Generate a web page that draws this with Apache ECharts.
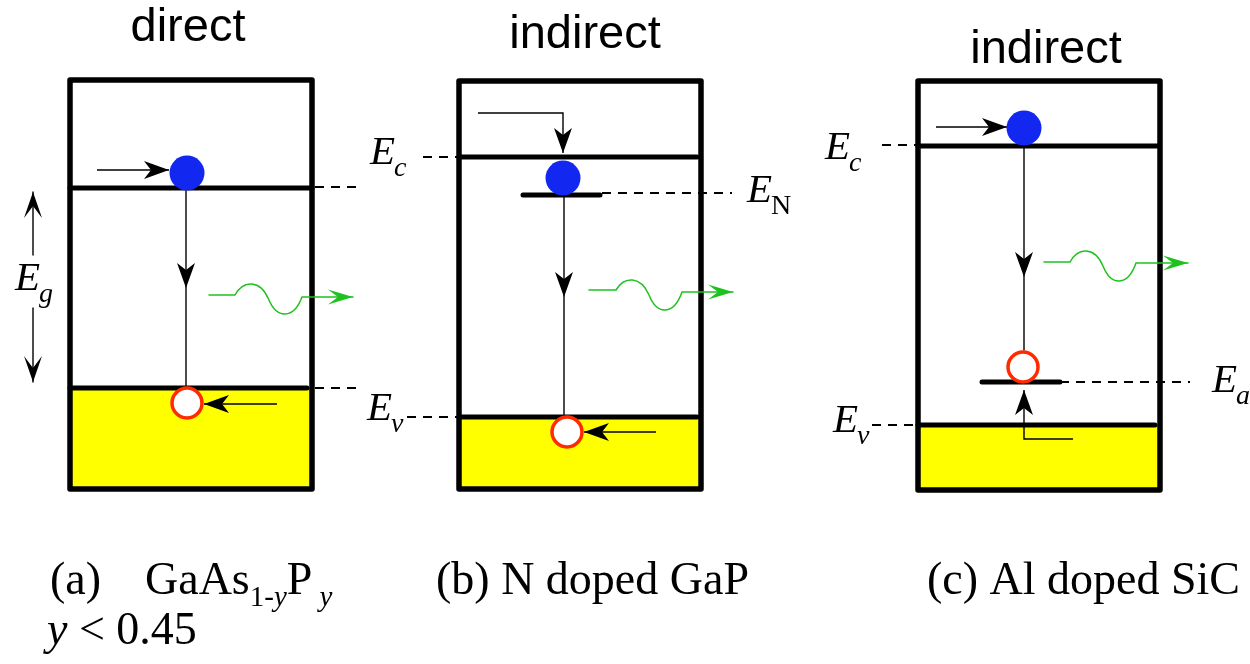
<!DOCTYPE html>
<html>
<head>
<meta charset="utf-8">
<script src="https://cdn.jsdelivr.net/npm/echarts@6/dist/echarts.min.js"></script>
<style>
html, body { margin: 0; padding: 0; background: #ffffff; }
#chart { width: 1250px; height: 664px; }
</style>
</head>
<body>
<div id="chart"></div>
<script>
// Band diagrams of three light emitters: direct GaAsP, N-doped GaP, Al-doped SiC.
// Diagram units: x runs to the right, y runs downward (higher energy = smaller y).

const panelTitles = ['direct', 'indirect', 'indirect'];
const titleCenterX = [188, 585, 1046];
const titleBaseY = [44, 51, 66];

const boxLeft = [70, 459, 918];
const boxRight = [312, 701, 1160];
const boxTop = [80, 81, 81];
const boxBottom = [489, 489, 490];

const conductionEdge = [188, 157, 146];
const conductionEnd = [312, 697, 1157];
const valenceEdge = [388, 417, 425];
const valenceEnd = [307, 697, 1155];
const impurityLevel = [null, 195, 382];
const impurityFrom = [null, 523, 982];
const impurityTo = [null, 600, 1060];

const electronX = [187, 563, 1024];
const electronY = [173, 178, 128];
const holeX = [187, 567, 1023];
const holeY = [403, 432, 367];

// path of an electron arriving at its state (last point = arrow tip)
const electronPath = [
  [[97, 170], [169, 170]],
  [[478, 113], [563, 113], [563, 153]],
  [[936, 127], [1007, 127]]
];
// path of a hole arriving at its state
const holePath = [
  [[277, 404], [204, 404]],
  [[656, 432], [584, 432]],
  [[1073, 439], [1024, 439], [1024, 390]]
];

// radiative transition
const recombX = [186, 564, 1024];
const recombTop = [191, 197, 146];
const recombBottom = [388, 415, 350];
const recombTipY = [288, 297, 277];

// emitted photon
const photonStartX = [209, 589, 1044];
const photonStartY = [295, 290, 262];
const waveFromX = [235, 616, 1070];
const waveToX = [302, 682, 1136];
const waveCrestY = [284, 280, 251];
const waveTroughY = [314, 310, 281];
const photonEndY = [297, 292, 263];
const photonTipX = [353, 733, 1188];

// dashed guides from the levels to their labels
const guideFromX = [315, 315, 423, 407, 602, 882, 872, 1060];
const guideToX = [363, 363, 457, 457, 732, 918, 918, 1190];
const guideY = [187, 388, 157, 417, 193, 145, 425, 382];

// level labels E with subscript
const levelSub = ['c', 'v', 'N', 'c', 'v', 'a', 'g'];
const levelSubItalic = [true, true, false, true, true, true, true];
const levelLabelX = [370, 367, 747, 825, 833, 1212, 15];
const levelLabelY = [167, 423, 205, 162, 435, 395, 293];

// band-gap double arrow
const gapArrowX = [33, 33];
const gapArrowFrom = [255, 308];
const gapArrowTo = [192, 382];

// captions, as runs of [text, style]: r roman, i italic, rs/is subscript
const captionRuns = [
  [['(a)', 'r']],
  [['GaAs', 'r'], ['1-', 'rs'], ['y', 'is'], ['P', 'r'], [' ', 'rs'], ['y', 'is']],
  [['(b) N doped GaP', 'r']],
  [['(c) Al doped SiC', 'r']],
  [['y', 'i'], [' < 0.45', 'r']]
];
const captionX = [50, 145, 436, 927, 47];
const captionY = [598, 598, 598, 598, 648];

const SERIF = '"Liberation Serif", "Times New Roman", serif';
const SANS = '"Liberation Sans", Arial, sans-serif';
const BLACK = '#000000';
const YELLOW = '#ffff00';
const BLUE = '#1228f0';
const RED = '#ff2a00';
const GREEN = '#1ec21e';

const measureCtx = document.createElement('canvas').getContext('2d');
function textWidth(text, font) {
  measureCtx.font = font;
  return measureCtx.measureText(text).width;
}

// place text by its alphabetic baseline
function textAt(x, baseline, text, font, size, align, fill) {
  return {
    type: 'text',
    style: {
      text: text, x: x, y: baseline - size * 0.34, font: font,
      fill: fill || BLACK, align: align || 'left', verticalAlign: 'middle'
    }
  };
}

function seg(p, q, width, color, dash) {
  return {
    type: 'line',
    shape: { x1: p[0], y1: p[1], x2: q[0], y2: q[1] },
    style: { stroke: color || BLACK, lineWidth: width, lineCap: dash ? 'butt' : 'round', lineDash: dash || null }
  };
}

// stealth-style arrow head with its tip at `tip`, pointing away from `from`
function arrowHead(tip, from, len, half, notch, color) {
  const dx = tip[0] - from[0], dy = tip[1] - from[1];
  const d = Math.hypot(dx, dy) || 1;
  const ux = dx / d, uy = dy / d, px = -uy, py = ux;
  const bx = tip[0] - ux * len, by = tip[1] - uy * len;
  const nx = tip[0] - ux * (len - notch), ny = tip[1] - uy * (len - notch);
  return {
    type: 'polygon',
    shape: { points: [tip, [bx + px * half, by + py * half], [nx, ny], [bx - px * half, by - py * half]] },
    style: { fill: color || BLACK }
  };
}

function renderPanel(params, api) {
  const i = params.dataIndex;
  const c = (x, y) => api.coord([x, y]);
  const kids = [];
  const tl = c(boxLeft[i], boxTop[i]);
  const br = c(boxRight[i], boxBottom[i]);
  const vb = c(boxLeft[i], valenceEdge[i]);

  // filled valence band
  kids.push({ type: 'rect', shape: { x: tl[0], y: vb[1], width: br[0] - tl[0], height: br[1] - vb[1] }, style: { fill: YELLOW } });
  // crystal outline
  kids.push({ type: 'rect', shape: { x: tl[0], y: tl[1], width: br[0] - tl[0], height: br[1] - tl[1] },
    style: { fill: 'none', stroke: BLACK, lineWidth: 5.5, lineJoin: 'round' } });
  // band edges
  kids.push(seg(c(boxLeft[i], conductionEdge[i]), c(conductionEnd[i], conductionEdge[i]), 5));
  kids.push(seg(c(boxLeft[i], valenceEdge[i]), c(valenceEnd[i], valenceEdge[i]), 5));
  if (impurityLevel[i] !== null) {
    kids.push(seg(c(impurityFrom[i], impurityLevel[i]), c(impurityTo[i], impurityLevel[i]), 5));
  }

  // radiative transition
  const rt = c(recombX[i], recombTop[i]);
  const rb = c(recombX[i], recombBottom[i]);
  kids.push(seg(rt, rb, 1.4));
  kids.push(arrowHead(c(recombX[i], recombTipY[i]), rt, 25, 9, 7));

  // carriers arriving at their states
  [electronPath[i], holePath[i]].forEach(function (path) {
    const pts = path.map(p => c(p[0], p[1]));
    kids.push({ type: 'polyline', shape: { points: pts }, style: { stroke: BLACK, fill: 'none', lineWidth: 1.4 } });
    kids.push(arrowHead(pts[pts.length - 1], pts[pts.length - 2], 25, 9, 7));
  });

  // electron and hole
  const e = c(electronX[i], electronY[i]);
  kids.push({ type: 'circle', shape: { cx: e[0], cy: e[1], r: 17.5 }, style: { fill: BLUE } });
  const h = c(holeX[i], holeY[i]);
  kids.push({ type: 'circle', shape: { cx: h[0], cy: h[1], r: 15 }, style: { fill: '#ffffff', stroke: RED, lineWidth: 3.5 } });

  // emitted photon
  const p0 = c(photonStartX[i], photonStartY[i]);
  const w0 = c(waveFromX[i], photonStartY[i]);
  const w1 = c(waveToX[i], photonEndY[i]);
  const crest = c(0, waveCrestY[i])[1];
  const trough = c(0, waveTroughY[i])[1];
  const mx = (w0[0] + w1[0]) / 2, my = (crest + trough) / 2;
  const up = (8 * crest - w0[1] - my) / 6;
  const down = (8 * trough - my - w1[1]) / 6;
  const gStyle = { stroke: GREEN, fill: 'none', lineWidth: 1.5 };
  kids.push(seg(p0, w0, 1.5, GREEN));
  kids.push({ type: 'bezierCurve', shape: {
    x1: w0[0], y1: w0[1], cpx1: w0[0] + (mx - w0[0]) * 0.25, cpy1: up,
    cpx2: w0[0] + (mx - w0[0]) * 0.75, cpy2: up, x2: mx, y2: my }, style: gStyle });
  kids.push({ type: 'bezierCurve', shape: {
    x1: mx, y1: my, cpx1: mx + (w1[0] - mx) * 0.25, cpy1: down,
    cpx2: mx + (w1[0] - mx) * 0.75, cpy2: down, x2: w1[0], y2: w1[1] }, style: gStyle });
  const tip = c(photonTipX[i], photonEndY[i]);
  kids.push(seg(w1, tip, 1.5, GREEN));
  kids.push(arrowHead(tip, w1, 25, 7.5, 10, GREEN));

  // heading
  const t = c(titleCenterX[i], titleBaseY[i]);
  kids.push(textAt(t[0], t[1], panelTitles[i], '47px ' + SANS, 47, 'center'));

  return { type: 'group', children: kids };
}

function renderGuide(params, api) {
  const i = params.dataIndex;
  return seg(api.coord([guideFromX[i], guideY[i]]), api.coord([guideToX[i], guideY[i]]), 2, BLACK, [9, 7]);
}

function renderLevelLabel(params, api) {
  const i = params.dataIndex;
  const p = api.coord([levelLabelX[i], levelLabelY[i]]);
  const bigFont = 'italic 41px ' + SERIF;
  const subFont = (levelSubItalic[i] ? 'italic ' : '') + '28px ' + SERIF;
  const w = textWidth('E', bigFont);
  return { type: 'group', children: [
    textAt(p[0], p[1], 'E', bigFont, 41),
    textAt(p[0] + w - 1, p[1] + 11, levelSub[i], subFont, 28)
  ] };
}

function renderGapArrow(params, api) {
  const i = params.dataIndex;
  const a = api.coord([gapArrowX[i], gapArrowFrom[i]]);
  const b = api.coord([gapArrowX[i], gapArrowTo[i]]);
  return { type: 'group', children: [seg(a, b, 1.4), arrowHead(b, a, 26, 9, 12)] };
}

function renderCaption(params, api) {
  const i = params.dataIndex;
  const p = api.coord([captionX[i], captionY[i]]);
  const fonts = {
    r: ['46px ' + SERIF, 46, 0],
    i: ['italic 46px ' + SERIF, 46, 0],
    rs: ['29px ' + SERIF, 29, 10],
    is: ['italic 29px ' + SERIF, 29, 10]
  };
  let x = p[0];
  const kids = [];
  captionRuns[i].forEach(function (run) {
    const f = fonts[run[1]];
    kids.push(textAt(x, p[1] + f[2], run[0], f[0], f[1]));
    x += textWidth(run[0], f[0]);
  });
  return { type: 'group', children: kids };
}

function indexData(n) {
  const out = [];
  for (let k = 0; k < n; k++) out.push([k, k]);
  return out;
}

const chart = echarts.init(document.getElementById('chart'), null, { renderer: 'canvas' });
chart.setOption({
  animation: false,
  backgroundColor: '#ffffff',
  grid: { left: 0, right: 0, top: 0, bottom: 0 },
  xAxis: { type: 'value', min: 0, max: 1250, show: false },
  yAxis: { type: 'value', min: 0, max: 664, inverse: true, show: false },
  series: [
    { type: 'custom', name: 'guides', renderItem: renderGuide, data: indexData(guideY.length), silent: true },
    { type: 'custom', name: 'panels', renderItem: renderPanel, data: indexData(panelTitles.length), silent: true },
    { type: 'custom', name: 'levels', renderItem: renderLevelLabel, data: indexData(levelSub.length), silent: true },
    { type: 'custom', name: 'gap', renderItem: renderGapArrow, data: indexData(gapArrowX.length), silent: true },
    { type: 'custom', name: 'captions', renderItem: renderCaption, data: indexData(captionRuns.length), silent: true }
  ]
});
</script>
</body>
</html>
